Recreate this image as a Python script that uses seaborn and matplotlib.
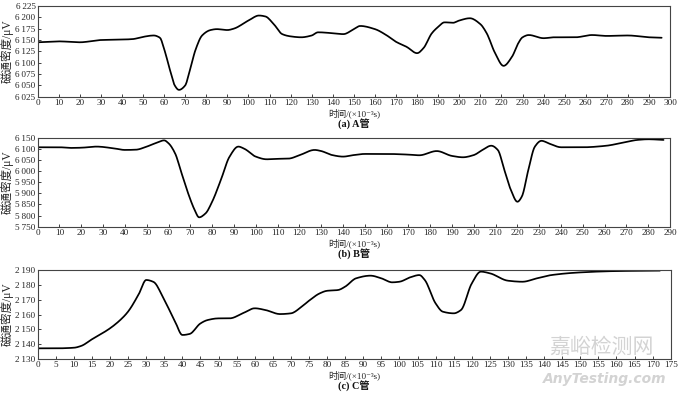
import matplotlib
matplotlib.use("Agg")
import matplotlib.pyplot as plt
import seaborn as sns
import pandas as pd
import numpy as np
from matplotlib.ticker import FuncFormatter, MultipleLocator

# ---------------- data ----------------
a_t = [0, 10, 20, 30, 40, 45, 50, 55, 58, 60, 63, 65, 67, 70, 72, 75, 78, 82, 85, 90, 93,
       100, 105, 108, 112, 116, 120, 125, 130, 133, 140, 145, 150, 153, 160, 165, 170, 175,
       180, 183, 187, 190, 193, 197, 200, 205, 210, 213, 217, 221, 225, 228, 230, 233, 240,
       245, 250, 255, 263, 270, 280, 290, 296]
a_v = [6145, 6147, 6145, 6150, 6151, 6152, 6157, 6160, 6155, 6130, 6080, 6050, 6040, 6050,
       6080, 6130, 6160, 6172, 6174, 6172, 6175, 6193, 6204, 6202, 6185, 6163, 6158, 6156,
       6160, 6167, 6165, 6163, 6174, 6181, 6174, 6162, 6146, 6135, 6121, 6132, 6165, 6179,
       6189, 6188, 6193, 6198, 6185, 6165, 6121, 6093, 6113, 6143, 6156, 6161, 6154, 6156,
       6156, 6156, 6161, 6159, 6160, 6156, 6155]

b_t = [0, 10, 15, 20, 27, 35, 40, 45, 50, 55, 58, 60, 63, 66, 69, 72, 74, 77, 80, 84, 88,
       92, 95, 100, 105, 110, 115, 120, 127, 130, 135, 140, 145, 150, 160, 170, 175, 183,
       190, 195, 200, 204, 208, 211, 214, 217, 220, 222, 225, 228, 231, 235, 240, 250, 260,
       270, 275, 280, 287]
b_v = [6107, 6107, 6104, 6105, 6110, 6102, 6095, 6096, 6110, 6129, 6138, 6125, 6080, 5990,
       5900, 5825, 5792, 5810, 5862, 5960, 6065, 6110, 6099, 6065, 6053, 6055, 6056, 6071,
       6095, 6090, 6072, 6065, 6072, 6077, 6077, 6074, 6071, 6090, 6068, 6062, 6072, 6095,
       6114, 6095, 6005, 5915, 5862, 5885, 6005, 6110, 6136, 6122, 6107, 6107, 6113, 6131,
       6140, 6143, 6140]

c_t = [0, 5, 10, 12, 15, 20, 23, 25, 28, 30, 32, 35, 38, 40, 42, 45, 47, 50, 53, 57, 60,
       63, 67, 70, 73, 75, 78, 80, 83, 85, 88, 92, 95, 98, 100, 103, 105.5, 107, 110, 112,
       115, 117, 120, 122.5, 125, 130, 134, 138, 142, 150, 160, 172]
c_v = [2137.2, 2137.2, 2137.6, 2138.8, 2143.3, 2150.7, 2156.7, 2162.0, 2174.0, 2183.3,
       2182.0, 2169.8, 2155.2, 2146.2, 2146.9, 2154.0, 2156.3, 2157.4, 2157.4, 2161.2,
       2164.2, 2163.0, 2160.3, 2160.8, 2165.3, 2169.3, 2174.3, 2176.0, 2176.5, 2178.8,
       2184.4, 2186.2, 2184.4, 2181.7, 2182.1, 2185.1, 2186.6, 2183.3, 2167.5, 2161.9,
       2160.8, 2163.0, 2181.0, 2188.9, 2187.8, 2182.8, 2182.1, 2184.4, 2186.6, 2188.4,
       2189.3, 2189.6]

captions = ["(a) A管", "(b) B管", "(c) C管"]
xlabel = "时间/(×10⁻³s)"
ylabel = "磁通密度/μV"

# ---------------- style ----------------
sns.set_style("ticks")
FAM = ["Liberation Serif", "Noto Sans CJK SC", "DejaVu Sans"]
plt.rcParams["font.family"] = FAM
plt.rcParams["axes.unicode_minus"] = False

fig = plt.figure(figsize=(6.8, 3.95), dpi=100)


def smooth_curve(t, v, n=600):
    """Shape-preserving cubic Hermite curve through the read points."""
    t = np.asarray(t, float); v = np.asarray(v, float)
    tt = np.linspace(t[0], t[-1], n)
    h = np.diff(t); d = np.diff(v) / h
    m = np.zeros_like(v)
    for i in range(1, len(v) - 1):
        if d[i - 1] * d[i] > 0:
            w1 = 2 * h[i] + h[i - 1]; w2 = h[i] + 2 * h[i - 1]
            m[i] = (w1 + w2) / (w1 / d[i - 1] + w2 / d[i])
    m[0] = d[0]; m[-1] = d[-1]
    idx = np.clip(np.searchsorted(t, tt) - 1, 0, len(t) - 2)
    s = (tt - t[idx]) / h[idx]
    h00 = 2 * s**3 - 3 * s**2 + 1; h10 = s**3 - 2 * s**2 + s
    h01 = -2 * s**3 + 3 * s**2; h11 = s**3 - s**2
    vv = h00 * v[idx] + h10 * h[idx] * m[idx] + h01 * v[idx + 1] + h11 * h[idx] * m[idx + 1]
    return tt, vv


panels = [
    (a_t, a_v, (0, 300), 10, (6025, 6225), 25, [0.0554, 0.7552, 0.930, 0.2296]),
    (b_t, b_v, (0, 290), 10, (5750, 6150), 50, [0.0554, 0.4261, 0.930, 0.2253]),
    (c_t, c_v, (0, 175), 5, (2130, 2190), 10, [0.0554, 0.0911, 0.931, 0.2253]),
]

fmt = FuncFormatter(lambda x, p: f"{int(round(x)):,}".replace(",", "\u2009"))

for (t, v, xl, xs, yl, ys, pos), cap in zip(panels, captions):
    ax = fig.add_axes(pos)
    tt, vv = smooth_curve(t, v)
    df = pd.DataFrame({"t": tt, "v": vv})
    sns.lineplot(data=df, x="t", y="v", ax=ax, color="black", linewidth=1.25)
    ax.set_xlim(*xl)
    ax.set_ylim(*yl)
    ax.xaxis.set_major_locator(MultipleLocator(xs))
    ax.yaxis.set_major_locator(MultipleLocator(ys))
    ax.yaxis.set_major_formatter(fmt)
    ax.tick_params(direction="in", length=2, width=0.6, labelsize=6.6, pad=1.5,
                   colors="#222222")
    for s in ax.spines.values():
        s.set_linewidth(0.8)
        s.set_color("#444444")
    ax.set_xlabel(xlabel, fontsize=6.6, labelpad=1, family=FAM, color="#222222")
    ax.set_ylabel(ylabel, fontsize=8.3, labelpad=1, family=FAM, color="#222222")
    ax.text(0.5, -0.30, cap, transform=ax.transAxes, ha="center", va="center",
            fontsize=7.3, fontweight="bold", family=FAM, color="#111111")

# watermark
fig.text(0.885, 0.122, "嘉峪检测网", fontsize=15, color="#c8c8c8", ha="center", va="center",
         family=["Noto Sans CJK SC"], alpha=0.8)
fig.text(0.89, 0.040, "AnyTesting.com", fontsize=10, color="#c8c8c8", ha="center", va="center",
         style="italic", fontweight="bold", family=["DejaVu Sans"], alpha=0.8)

fig.savefig("out.png", dpi=100)
